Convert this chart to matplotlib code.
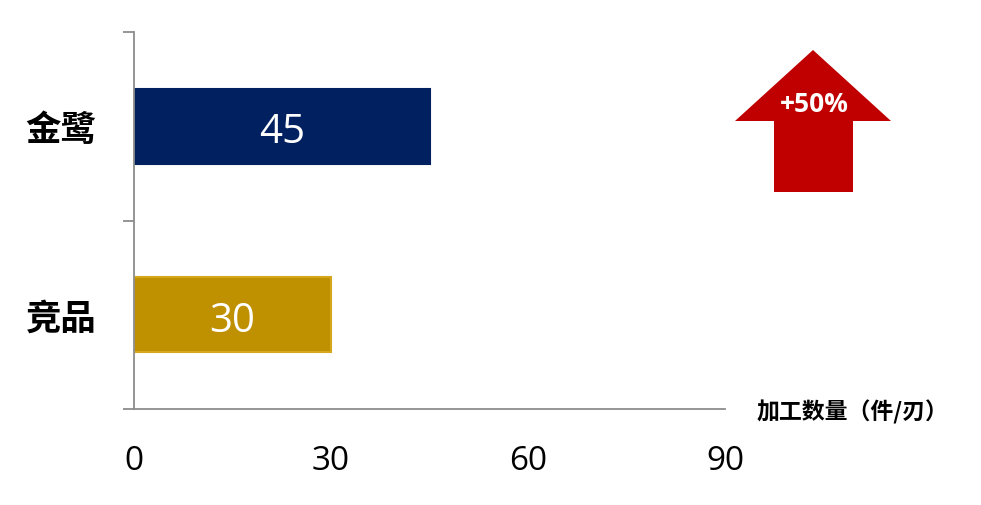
import matplotlib
matplotlib.use("Agg")
import matplotlib.pyplot as plt
from matplotlib.patches import Polygon

categories = ["金鹭", "竞品"]
values = [45, 30]
bar_colors = ["#002060", "#BF9000"]
edge_colors = ["#002060", "#D6A61C"]
xticks = [0, 30, 60, 90]
xlabel = "加工数量（件/刃）"
arrow_text = "+50%"

CJK = ["Noto Sans CJK SC", "DejaVu Sans"]
NUM = ["Open Sans", "DejaVu Sans"]

W, H = 981, 506
fig = plt.figure(figsize=(W / 100, H / 100), dpi=100)
ax = fig.add_axes([134 / W, 1 - 410 / H, (725 - 134) / W, (410 - 33) / H])

ypos = list(range(len(categories)))
bars = ax.barh(ypos, values, height=0.4, color=bar_colors, edgecolor=edge_colors, linewidth=1.5)
for b, v in zip(bars, values):
    ax.text(b.get_width() / 2, b.get_y() + b.get_height() / 2 + 0.03, str(v),
            ha="center", va="center", color="white", fontsize=29, family=NUM)

ax.set_xlim(0, 90)
ax.set_ylim(len(categories) - 0.5, -0.5)

ax.set_xticks(xticks)
ax.set_xticklabels([str(t) for t in xticks], family=NUM, fontsize=24)
ax.tick_params(axis="x", length=0, pad=25)

ax.set_yticks([-0.5, 0.5, 1.5])
ax.set_yticklabels([])
ax.tick_params(axis="y", which="major", length=8, color="#8C8C8C", width=1.3)
ax.set_yticks(ypos, minor=True)
ax.set_yticklabels(categories, minor=True, family=CJK, fontsize=25.5, fontweight="bold")
ax.tick_params(axis="y", which="minor", length=0, pad=27)

for s in ["top", "right"]:
    ax.spines[s].set_visible(False)
for s in ["left", "bottom"]:
    ax.spines[s].set_color("#8C8C8C")
    ax.spines[s].set_linewidth(1.3)

fig.text(757 / W, 1 - 412 / H, xlabel, ha="left", va="center",
         family=CJK, fontsize=16.5, fontweight="bold", color="black")

# decorative arrow (pixel coords from top-left)
pts = [(813, 51), (891, 122), (853, 122), (853, 193), (774, 193), (774, 122), (735, 122)]
poly = Polygon([(x / W, 1 - y / H) for x, y in pts], closed=True,
               transform=fig.transFigure, facecolor="#C00000", edgecolor="none")
fig.patches.append(poly)
fig.text(814 / W, 1 - 104 / H, arrow_text, ha="center", va="center",
         color="white", fontsize=19, fontweight="bold", family=NUM)

fig.savefig("out.png", dpi=100)
